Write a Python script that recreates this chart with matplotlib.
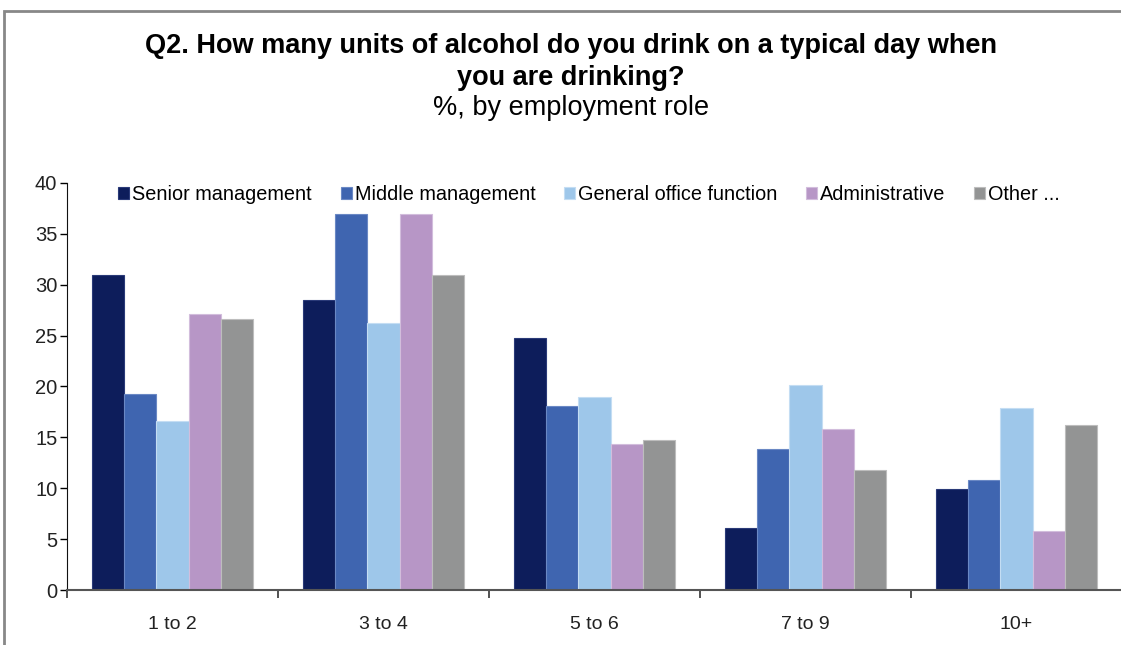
import matplotlib
matplotlib.use('Agg')
import matplotlib.pyplot as plt
import numpy as np
from matplotlib.patches import Rectangle

plt.rcParams['font.family'] = ['Liberation Sans', 'DejaVu Sans']

categories = ['1 to 2', '3 to 4', '5 to 6', '7 to 9', '10+']
roles = ['Senior management', 'Middle management', 'General office function',
         'Administrative', 'Other ...']
senior = [31.0, 28.5, 24.8, 6.1, 9.9]
middle = [19.3, 37.0, 18.1, 13.9, 10.8]
general = [16.6, 26.2, 19.0, 20.1, 17.9]
admin = [27.1, 37.0, 14.3, 15.8, 5.8]
other = [26.6, 31.0, 14.7, 11.8, 16.2]
colors = ['#0d1d5b', '#3f65b0', '#9ec7ea', '#b796c6', '#939494']
edges = ['#2a3a78', '#6a88c4', '#c4ddf3', '#d2bddc', '#bdbdbd']

series = [senior, middle, general, admin, other]

fig = plt.figure(figsize=(11.21, 6.45), dpi=100)
# grey frame round the chart area
fig.patches.append(Rectangle((4 / 1121, -0.1), 1.2, 1 - 11 / 645 + 0.1,
                             transform=fig.transFigure, fill=False,
                             edgecolor='#888888', linewidth=2))

ax = fig.add_axes([67 / 1121, 55 / 645, 1055 / 1121, 407 / 645])

x = np.arange(len(categories))
w = 0.153
for i, (vals, lab) in enumerate(zip(series, roles)):
    ax.bar(x + (i - 2) * w, vals, w, color=colors[i], edgecolor=edges[i],
           linewidth=0.8, label=lab)

ax.set_xlim(-0.5, len(categories) - 0.5)
ax.set_ylim(0, 40)
ax.set_yticks(range(0, 41, 5))
ax.set_xticks(x)
ax.set_xticklabels(categories)
ax.set_xticks(np.arange(-0.5, len(categories), 1.0), minor=True)
ax.tick_params(axis='x', which='major', length=0, pad=19, labelsize=14,
               labelcolor='#222222')
ax.tick_params(axis='x', which='minor', length=6, width=1.2, color='#333333',
               direction='out')
ax.tick_params(axis='y', length=5, width=1, direction='out', pad=2,
               labelsize=14.5, labelcolor='#222222')
for s in ['top', 'right']:
    ax.spines[s].set_visible(False)
ax.spines['left'].set_color('#111111')
ax.spines['bottom'].set_color('#555555')
ax.spines['bottom'].set_linewidth(1.5)

ax.legend(loc='upper center', bbox_to_anchor=(0.495, 1.04), ncol=5,
          frameon=False, fontsize=14.3, handlelength=0.55, handleheight=0.55,
          handletextpad=0.15, columnspacing=1.45)

fig.text(0.509, 1 - 62 / 645,
         'Q2. How many units of alcohol do you drink on a typical day when\n'
         'you are drinking?', ha='center', va='center', fontsize=19.5,
         fontweight='bold', linespacing=1.3)
fig.text(0.509, 1 - 108 / 645, '%, by employment role', ha='center',
         va='center', fontsize=19.5)

fig.savefig('out.png', dpi=100)
